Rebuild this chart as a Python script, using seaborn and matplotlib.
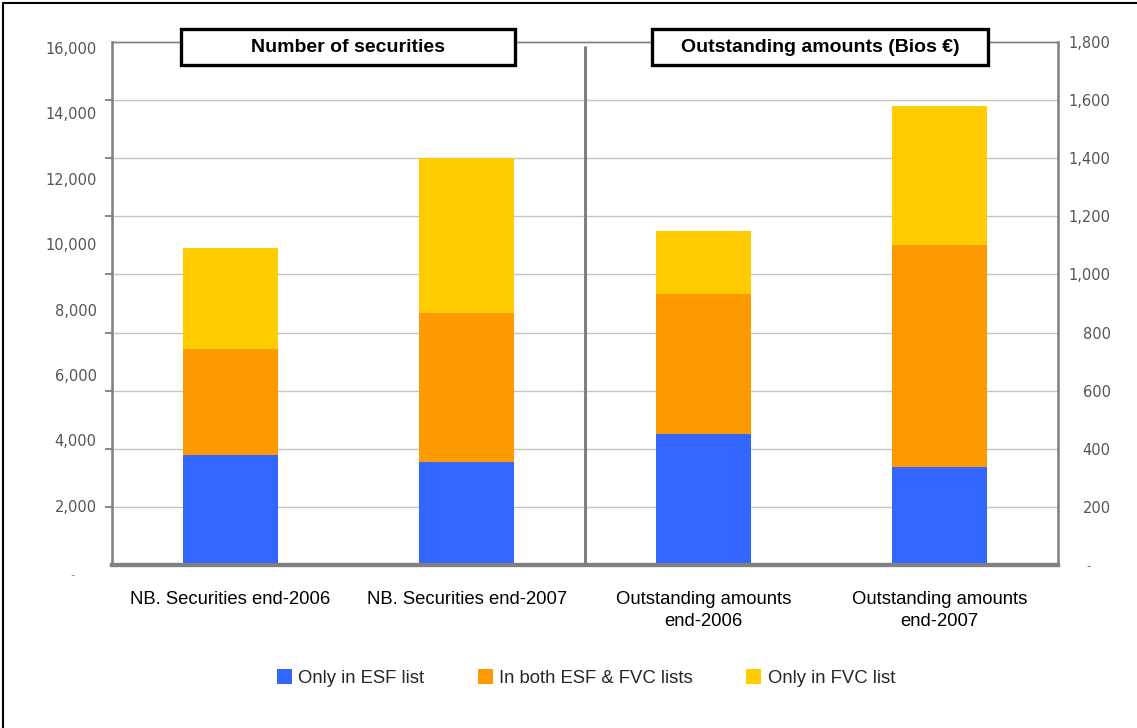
import numpy as np
import pandas as pd
import matplotlib
matplotlib.use("Agg")
import matplotlib.pyplot as plt
from matplotlib.patches import Rectangle, Patch
from matplotlib.lines import Line2D
import seaborn as sns

# ---- data -------------------------------------------------------------
categories = ["NB. Securities end-2006", "NB. Securities end-2007",
              "Outstanding amounts\nend-2006", "Outstanding amounts\nend-2007"]
series_names = ["Only in ESF list", "In both ESF & FVC lists", "Only in FVC list"]
series_colors = ["#3366FF", "#FF9900", "#FFCC00"]

# number of securities (left axis)
securities_esf = [3350, 3160]
securities_both = [3260, 4550]
securities_fvc = [3090, 4730]

# outstanding amounts in EUR bn (right axis)
amounts_esf = [452, 339]
amounts_both = [479, 764]
amounts_fvc = [219, 478]

left_ticks = list(range(0, 16001, 2000))
right_ticks = list(range(0, 1801, 200))

panel_titles = ["Number of securities", "Outstanding amounts (Bios €)"]

# ---- style ------------------------------------------------------------
sns.set_style("white")
plt.rcParams["font.family"] = ["Liberation Sans", "DejaVu Sans"]

GRAY = "#808080"
TICK_GRAY = "#555555"

fig = plt.figure(figsize=(11.37, 7.28), dpi=100)
W, H = 1137, 728
ax = fig.add_axes([112 / W, 1 - 565 / H, (1058 - 112) / W, (565 - 42) / H])
ax2 = ax.twinx()


def stacked_frame(cats, esf, both, fvc):
    df = pd.DataFrame({"category": cats, "esf": esf, "both": both, "fvc": fvc})
    df["lvl1"] = df["esf"]
    df["lvl2"] = df["esf"] + df["both"]
    df["lvl3"] = df["esf"] + df["both"] + df["fvc"]
    return df


left_df = stacked_frame(categories[:2], securities_esf, securities_both, securities_fvc)
right_df = stacked_frame(categories[2:], amounts_esf, amounts_both, amounts_fvc)

# stacked bars drawn as overlapping cumulative layers, tallest first
for target, df in ((ax, left_df), (ax2, right_df)):
    for level, color in zip(["lvl3", "lvl2", "lvl1"], series_colors[::-1]):
        sns.barplot(data=df, x="category", y=level, order=categories,
                    color=color, saturation=1, width=0.4, errorbar=None,
                    linewidth=0, ax=target)

# ---- left axis --------------------------------------------------------
ax.set_ylim(0, 16000)
ax.set_yticks(left_ticks)
ax.set_yticklabels(["" if v == 0 else f"{v:,}" for v in left_ticks])
grid_pos = [k * 16000 / 9 for k in range(10)]
ax.set_yticks(grid_pos, minor=True)
ax.yaxis.grid(True, which="minor", color="#c4c4c4", linewidth=1)
ax.yaxis.grid(False, which="major")
ax.set_axisbelow(True)
ax.tick_params(axis="y", which="major", length=0, pad=11,
               labelsize=10.5, labelcolor=TICK_GRAY)
ax.tick_params(axis="y", which="minor", length=5, width=1.3, color=GRAY,
               direction="out")
for lbl in ax.get_yticklabels():
    lbl.set_family("DejaVu Sans")
    lbl.set_va("top")
ax.text(-0.042, -0.02, "-", transform=ax.transAxes, ha="center", va="center",
        fontsize=9, color="#999999", family="DejaVu Sans")

# ---- right axis -------------------------------------------------------
ax2.set_ylim(0, 1800)
ax2.set_yticks(right_ticks)
ax2.set_yticklabels(["" if v == 0 else f"{v:,}" for v in right_ticks])
ax2.tick_params(axis="y", length=0, pad=38, labelsize=10.5, labelcolor=TICK_GRAY)
for lbl in ax2.get_yticklabels():
    lbl.set_family("DejaVu Sans")
    lbl.set_ha("right")
ax2.text(1.032, -0.003, "-", transform=ax2.transAxes, ha="center", va="center",
         fontsize=9, color="#777777", family="DejaVu Sans")
ax2.grid(False)

# ---- x axis -----------------------------------------------------------
ax.set_xlim(-0.5, len(categories) - 0.5)
ax.set_xticks(range(len(categories)))
ax.set_xticklabels(categories, fontsize=13.3, color="black", linespacing=1.35)
ax.set_xticks(np.arange(-0.5, len(categories), 1), minor=True)
ax.tick_params(axis="x", which="major", length=0, pad=19)
ax.tick_params(axis="x", which="minor", length=6, width=2, color=GRAY,
               direction="out")
ax.set_xlabel("")
ax.set_ylabel("")
ax2.set_xlabel("")
ax2.set_ylabel("")

# spines
for a in (ax, ax2):
    for side, sp in a.spines.items():
        sp.set_visible(True)
        sp.set_color(GRAY)
ax.spines["left"].set_linewidth(1.8)
ax2.spines["right"].set_linewidth(1.8)
ax.spines["top"].set_linewidth(1.0)
ax2.spines["top"].set_linewidth(1.0)
ax.spines["bottom"].set_linewidth(3.0)
ax2.spines["bottom"].set_linewidth(3.0)

# divider between the two panels
ax2.axvline(1.5, ymin=0, ymax=0.99, color=GRAY, linewidth=2.2, zorder=5)

# ---- panel titles in framed boxes -----------------------------------
for (x0, x1), title in zip([(181, 515), (652, 988)], panel_titles):
    fig.add_artist(Rectangle((x0 / W, 1 - 65 / H), (x1 - x0) / W, 36 / H,
                             transform=fig.transFigure, facecolor="white",
                             edgecolor="black", linewidth=2.4, zorder=10))
    fig.text((x0 + x1) / 2 / W, 1 - 47 / H, title, ha="center", va="center",
             fontsize=14, fontweight="bold", color="black", zorder=11)

# ---- legend -----------------------------------------------------------
handles = [Patch(facecolor=c, edgecolor="none", label=n)
           for c, n in zip(series_colors, series_names)]
fig.legend(handles=handles, loc="center", bbox_to_anchor=(586 / W, 1 - 678 / H),
           ncol=3, frameon=False, fontsize=13.3, handlelength=0.8,
           handleheight=0.85, handletextpad=0.35, columnspacing=2.9)

# outer frame
fig.add_artist(Line2D([3 / W, 3 / W], [0, 1 - 3 / H], transform=fig.transFigure,
                      color="black", linewidth=1.5))
fig.add_artist(Line2D([3 / W, 1], [1 - 3 / H, 1 - 3 / H], transform=fig.transFigure,
                      color="black", linewidth=1.5))

fig.savefig("out.png", dpi=100)
